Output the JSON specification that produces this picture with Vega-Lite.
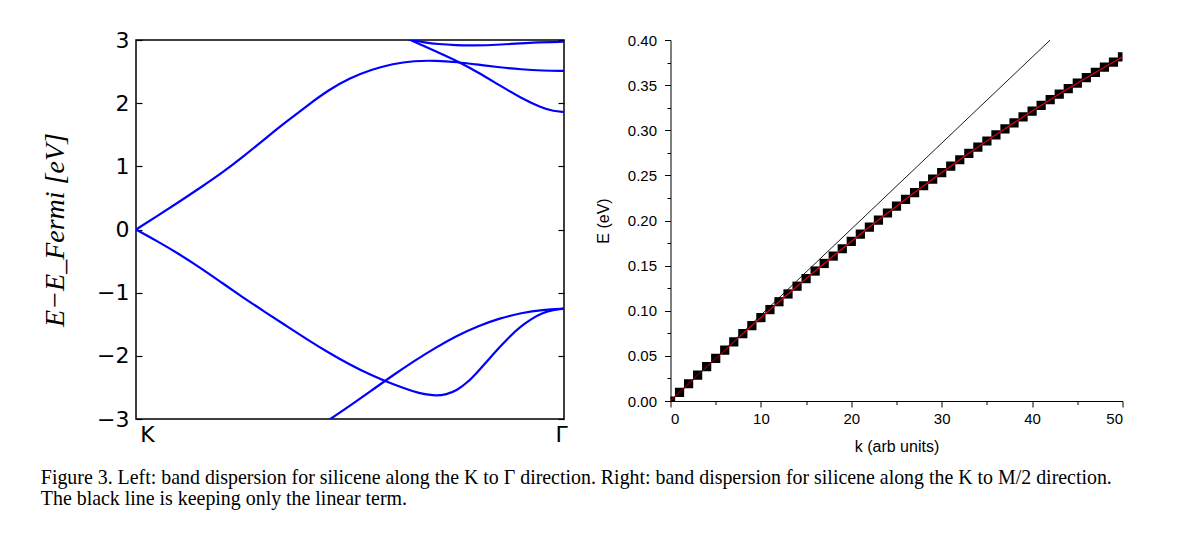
{
  "$schema": "https://vega.github.io/schema/vega-lite/v6.json",
  "description": "Silicene band dispersion: K to Gamma bands (left) and K to M/2 dispersion with linear term (right).",
  "padding": {"left": 40, "top": 28, "right": 5, "bottom": 5},
  "spacing": 26.5,
  "config": {
    "view": {"stroke": null},
    "font": "Liberation Sans",
    "axis": {"grid": false, "labelColor": "black", "titleColor": "black", "tickColor": "black", "domainColor": "black", "titleFontWeight": "normal"}
  },
  "datasets": {
    "bands": [
      {"band": 1, "x": 0, "E": 0}, {"band": 1, "x": 0.05, "E": 0.215}, {"band": 1, "x": 0.1, "E": 0.435},
      {"band": 1, "x": 0.15, "E": 0.66}, {"band": 1, "x": 0.2, "E": 0.89}, {"band": 1, "x": 0.25, "E": 1.15},
      {"band": 1, "x": 0.3, "E": 1.43}, {"band": 1, "x": 0.35, "E": 1.7}, {"band": 1, "x": 0.4, "E": 1.96},
      {"band": 1, "x": 0.45, "E": 2.21}, {"band": 1, "x": 0.5, "E": 2.4}, {"band": 1, "x": 0.55, "E": 2.53},
      {"band": 1, "x": 0.6, "E": 2.625}, {"band": 1, "x": 0.65, "E": 2.67}, {"band": 1, "x": 0.7, "E": 2.675},
      {"band": 1, "x": 0.75, "E": 2.65}, {"band": 1, "x": 0.8, "E": 2.61}, {"band": 1, "x": 0.85, "E": 2.567},
      {"band": 1, "x": 0.9, "E": 2.535}, {"band": 1, "x": 0.95, "E": 2.515}, {"band": 1, "x": 1, "E": 2.51},
      {"band": 2, "x": 0.61, "E": 3.09}, {"band": 2, "x": 0.65, "E": 2.975}, {"band": 2, "x": 0.7, "E": 2.82},
      {"band": 2, "x": 0.75, "E": 2.67}, {"band": 2, "x": 0.8, "E": 2.485}, {"band": 2, "x": 0.85, "E": 2.28},
      {"band": 2, "x": 0.9, "E": 2.08}, {"band": 2, "x": 0.95, "E": 1.92}, {"band": 2, "x": 0.975, "E": 1.875},
      {"band": 2, "x": 1, "E": 1.86},
      {"band": 3, "x": 0.615, "E": 3.06}, {"band": 3, "x": 0.645, "E": 3.0}, {"band": 3, "x": 0.675, "E": 2.96},
      {"band": 3, "x": 0.704, "E": 2.936}, {"band": 3, "x": 0.75, "E": 2.917}, {"band": 3, "x": 0.782, "E": 2.91},
      {"band": 3, "x": 0.852, "E": 2.925}, {"band": 3, "x": 0.929, "E": 2.963}, {"band": 3, "x": 1, "E": 2.973},
      {"band": 4, "x": 0, "E": 0}, {"band": 4, "x": 0.05, "E": -0.185}, {"band": 4, "x": 0.1, "E": -0.385},
      {"band": 4, "x": 0.15, "E": -0.605}, {"band": 4, "x": 0.2, "E": -0.84}, {"band": 4, "x": 0.25, "E": -1.075},
      {"band": 4, "x": 0.3, "E": -1.3}, {"band": 4, "x": 0.35, "E": -1.52}, {"band": 4, "x": 0.4, "E": -1.74},
      {"band": 4, "x": 0.45, "E": -1.95}, {"band": 4, "x": 0.5, "E": -2.14}, {"band": 4, "x": 0.55, "E": -2.31},
      {"band": 4, "x": 0.6, "E": -2.45}, {"band": 4, "x": 0.65, "E": -2.57}, {"band": 4, "x": 0.675, "E": -2.61},
      {"band": 4, "x": 0.7, "E": -2.632}, {"band": 4, "x": 0.725, "E": -2.615}, {"band": 4, "x": 0.75, "E": -2.545},
      {"band": 4, "x": 0.775, "E": -2.42}, {"band": 4, "x": 0.8, "E": -2.24}, {"band": 4, "x": 0.825, "E": -2.05},
      {"band": 4, "x": 0.85, "E": -1.86}, {"band": 4, "x": 0.875, "E": -1.68}, {"band": 4, "x": 0.9, "E": -1.53},
      {"band": 4, "x": 0.925, "E": -1.41}, {"band": 4, "x": 0.95, "E": -1.32}, {"band": 4, "x": 0.975, "E": -1.27},
      {"band": 4, "x": 1, "E": -1.254},
      {"band": 5, "x": 0.41, "E": -3.2}, {"band": 5, "x": 0.45, "E": -3.018}, {"band": 5, "x": 0.5, "E": -2.79},
      {"band": 5, "x": 0.55, "E": -2.55}, {"band": 5, "x": 0.6, "E": -2.31}, {"band": 5, "x": 0.65, "E": -2.08},
      {"band": 5, "x": 0.7, "E": -1.87}, {"band": 5, "x": 0.75, "E": -1.68}, {"band": 5, "x": 0.8, "E": -1.525},
      {"band": 5, "x": 0.85, "E": -1.405}, {"band": 5, "x": 0.9, "E": -1.32}, {"band": 5, "x": 0.95, "E": -1.27},
      {"band": 5, "x": 1, "E": -1.254}
    ],
    "dispersion": [
      {"k": 0, "E": 0}, {"k": 1, "E": 0.0096}, {"k": 2, "E": 0.0191}, {"k": 3, "E": 0.0286}, {"k": 4, "E": 0.038},
      {"k": 5, "E": 0.0472}, {"k": 6, "E": 0.0564}, {"k": 7, "E": 0.0656}, {"k": 8, "E": 0.0746}, {"k": 9, "E": 0.0836},
      {"k": 10, "E": 0.0925}, {"k": 11, "E": 0.1013}, {"k": 12, "E": 0.11}, {"k": 13, "E": 0.1186}, {"k": 14, "E": 0.1272},
      {"k": 15, "E": 0.1356}, {"k": 16, "E": 0.144}, {"k": 17, "E": 0.1524}, {"k": 18, "E": 0.1606}, {"k": 19, "E": 0.1687},
      {"k": 20, "E": 0.1768}, {"k": 21, "E": 0.1848}, {"k": 22, "E": 0.1927}, {"k": 23, "E": 0.2005}, {"k": 24, "E": 0.2083},
      {"k": 25, "E": 0.2159}, {"k": 26, "E": 0.2235}, {"k": 27, "E": 0.231}, {"k": 28, "E": 0.2385}, {"k": 29, "E": 0.2458},
      {"k": 30, "E": 0.2531}, {"k": 31, "E": 0.2602}, {"k": 32, "E": 0.2673}, {"k": 33, "E": 0.2744}, {"k": 34, "E": 0.2813},
      {"k": 35, "E": 0.2881}, {"k": 36, "E": 0.2949}, {"k": 37, "E": 0.3016}, {"k": 38, "E": 0.3082}, {"k": 39, "E": 0.3148},
      {"k": 40, "E": 0.3212}, {"k": 41, "E": 0.3276}, {"k": 42, "E": 0.3339}, {"k": 43, "E": 0.3401}, {"k": 44, "E": 0.3462},
      {"k": 45, "E": 0.3522}, {"k": 46, "E": 0.3582}, {"k": 47, "E": 0.3641}, {"k": 48, "E": 0.3699}, {"k": 49, "E": 0.3756},
      {"k": 50, "E": 0.3813}
    ],
    "linear": [{"k": 0, "E": 0}, {"k": 42, "E": 0.4}]
  },
  "title": {
    "text": [
      "Figure 3. Left: band dispersion for silicene along the K to Γ direction. Right: band dispersion for silicene along the K to M/2 direction.",
      "The black line is keeping only the linear term."
    ],
    "orient": "bottom",
    "anchor": "start",
    "font": "Liberation Serif",
    "fontSize": 19.9,
    "fontWeight": "normal",
    "color": "black",
    "lineHeight": 21,
    "offset": 14
  },
  "hconcat": [
    {
      "width": 428,
      "height": 379,
      "view": {"stroke": "black", "strokeWidth": 1.5},
      "data": {"name": "bands"},
      "encoding": {
        "x": {
          "field": "x",
          "type": "quantitative",
          "scale": {"domain": [0, 1], "nice": false, "zero": false},
          "axis": {
            "values": [0, 1],
            "labelExpr": "datum.value == 0 ? 'K' : 'Γ'",
            "ticks": false,
            "domain": false,
            "title": null,
            "labelFont": "DejaVu Sans",
            "labelFontSize": 22,
            "labelFlush": false,
            "labelAlign": "center",
            "labelOffset": {"condition": {"test": "datum.value == 0", "value": 11}, "value": -3},
            "labelPadding": 5
          }
        }
      },
      "layer": [
        {
          "transform": [{"filter": "datum.band <= 3"}],
          "mark": {"type": "line", "color": "#0000ff", "strokeWidth": 2.2, "clip": true, "interpolate": "basis"},
          "encoding": {
            "detail": {"field": "band"},
            "y": {
              "field": "E",
              "type": "quantitative",
              "scale": {"domain": [-3, 3], "nice": false, "zero": false},
              "axis": {
                "values": [-3, -2, -1, 0, 1, 2, 3],
                "format": "d",
                "domain": false,
                "tickSize": -6,
                "tickWidth": 1.2,
                "labelFont": "DejaVu Sans",
                "labelFontSize": 22,
                "labelPadding": 13,
                "title": "E−E_Fermi [eV]",
                "titleFont": "Liberation Serif",
                "titleFontStyle": "italic",
                "titleFontSize": 28,
                "titlePadding": 27
              }
            }
          }
        },
        {
          "transform": [{"filter": "datum.band >= 4"}],
          "mark": {"type": "line", "color": "#0000ff", "strokeWidth": 2.2, "clip": true, "interpolate": "basis"},
          "encoding": {
            "detail": {"field": "band"},
            "y": {
              "field": "E",
              "type": "quantitative",
              "axis": {
                "orient": "right",
                "values": [-3, -2, -1, 0, 1, 2, 3],
                "labels": false,
                "domain": false,
                "tickSize": -6,
                "tickWidth": 1.2,
                "title": null
              }
            }
          }
        }
      ],
      "resolve": {"axis": {"y": "independent"}}
    },
    {
      "width": 452,
      "height": 361,
      "layer": [
        {
          "data": {"name": "dispersion"},
          "mark": {"type": "point", "shape": "square", "filled": true, "color": "black", "opacity": 1, "size": 85, "clip": true},
          "encoding": {
            "x": {
              "field": "k",
              "type": "quantitative",
              "scale": {"domain": [0, 50], "nice": false, "zero": false},
              "axis": {
                "values": [0, 10, 20, 30, 40, 50],
                "format": "d",
                "tickSize": 6,
                "labelFontSize": 15,
                "labelPadding": 4,
                "title": "k (arb units)",
                "titleFontSize": 16,
                "titlePadding": 12
              }
            },
            "y": {
              "field": "E",
              "type": "quantitative",
              "scale": {"domain": [0, 0.4], "nice": false, "zero": false},
              "axis": {
                "values": [0, 0.05, 0.1, 0.15, 0.2, 0.25, 0.3, 0.35, 0.4],
                "format": ".2f",
                "tickSize": 6,
                "labelFontSize": 15,
                "labelPadding": 8,
                "title": "E (eV)",
                "titleFontSize": 16,
                "titlePadding": 16
              }
            }
          }
        },
        {
          "data": {"name": "dispersion"},
          "mark": {"type": "line", "color": "#e0001a", "strokeWidth": 1.2, "clip": true},
          "encoding": {
            "x": {
              "field": "k",
              "type": "quantitative",
              "axis": {"orient": "bottom", "values": [5, 15, 25, 35, 45], "labels": false, "domain": false, "tickSize": 3.5, "title": null}
            },
            "y": {
              "field": "E",
              "type": "quantitative",
              "axis": {"orient": "left", "values": [0.025, 0.075, 0.125, 0.175, 0.225, 0.275, 0.325, 0.375], "labels": false, "domain": false, "tickSize": 3.5, "title": null}
            }
          }
        },
        {
          "data": {"name": "linear"},
          "mark": {"type": "line", "color": "black", "strokeWidth": 0.9, "clip": true},
          "encoding": {
            "x": {"field": "k", "type": "quantitative", "axis": null},
            "y": {"field": "E", "type": "quantitative", "axis": null}
          }
        }
      ],
      "resolve": {"axis": {"x": "independent", "y": "independent"}}
    }
  ]
}
